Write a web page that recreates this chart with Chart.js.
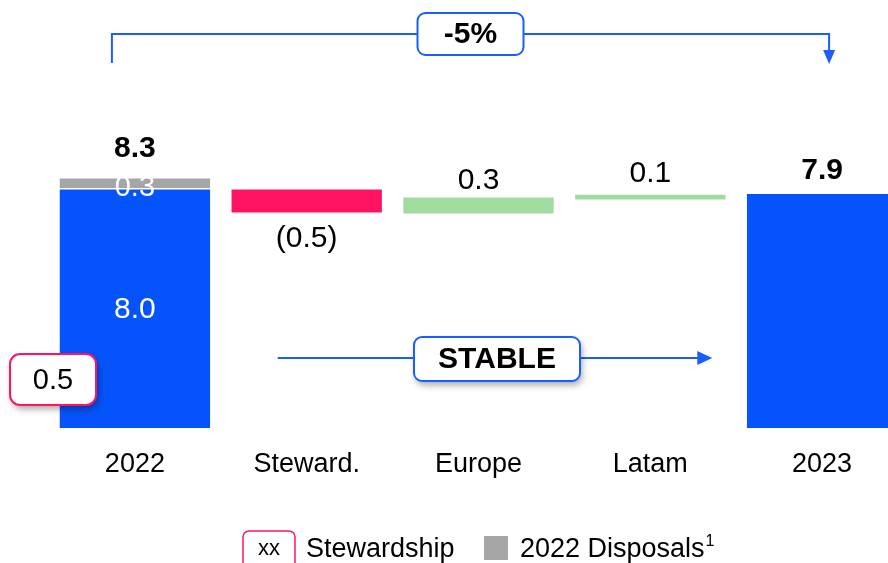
<!DOCTYPE html>
<html>
<head>
<meta charset="utf-8">
<script src="https://cdn.jsdelivr.net/npm/chart.js@4"></script>
<style>
  html, body { margin: 0; padding: 0; background: #fff; overflow: hidden; }
  #wrap { width: 888px; height: 563px; overflow: hidden; }
</style>
</head>
<body>
<div id="wrap"><canvas id="bridge" width="908" height="563"></canvas></div>
<script>
"use strict";

/* data */
var categories = ["2022", "Steward.", "Europe", "Latam", "2023"];
var baseValues = [[0, 8.0], null, null, null, [0, 7.85]];
var disposalValues = [[8.05, 8.37], null, null, null, null];
var stewardValues = [null, [7.23, 8.0], null, null, null];
var regionValues = [null, null, [7.2, 7.73], [7.67, 7.83], null];
var totalLabels = ["8.3", "", "", "", "7.9"];
var stepLabels = ["", "(0.5)", "0.3", "0.1", ""];
var baseLabel = "8.0";
var disposalLabel = "0.3";
var stewardshipCallout = "0.5";
var changeLabel = "-5%";
var trendLabel = "STABLE";
var legendLabels = ["Stewardship", "2022 Disposals"];

var BLUE = "#0553fa";
var LINE_BLUE = "#1a5eff";
var PINK = "#ff1464";
var GREEN = "#a0dba0";
var GREY = "#a6a6a6";
var FONT = "'Liberation Sans', Arial, sans-serif";

function roundRect(ctx, x, y, w, h, r) {
    ctx.beginPath();
    ctx.moveTo(x + r, y);
    ctx.arcTo(x + w, y, x + w, y + h, r);
    ctx.arcTo(x + w, y + h, x, y + h, r);
    ctx.arcTo(x, y + h, x, y, r);
    ctx.arcTo(x, y, x + w, y, r);
    ctx.closePath();
}

function textBox(ctx, x, y, w, h, r, stroke, shadow) {
    ctx.save();
    if (shadow) {
        ctx.shadowColor = "rgba(0,0,0,0.35)";
        ctx.shadowBlur = 7;
        ctx.shadowOffsetX = 2;
        ctx.shadowOffsetY = 4;
    }
    roundRect(ctx, x, y, w, h, r);
    ctx.fillStyle = "#fff";
    ctx.fill();
    ctx.restore();
    ctx.save();
    roundRect(ctx, x, y, w, h, r);
    ctx.lineWidth = 2;
    ctx.strokeStyle = stroke;
    ctx.stroke();
    ctx.restore();
}

function arrowHead(ctx, x, y, dir, len, half) {
    ctx.beginPath();
    if (dir === "down") {
        ctx.moveTo(x, y);
        ctx.lineTo(x - half, y - len);
        ctx.lineTo(x + half, y - len);
    } else {
        ctx.moveTo(x, y);
        ctx.lineTo(x - len, y - half);
        ctx.lineTo(x - len, y + half);
    }
    ctx.closePath();
    ctx.fill();
}

var labelPlugin = {
    id: "bridgeLabels",
    afterDatasetsDraw: function (chart) {
        var ctx = chart.ctx;
        var xs = chart.scales.x;
        var base = chart.getDatasetMeta(0).data;
        var disp = chart.getDatasetMeta(1).data;
        var stew = chart.getDatasetMeta(2).data;
        var reg = chart.getDatasetMeta(3).data;

        ctx.save();
        ctx.textAlign = "center";
        ctx.textBaseline = "middle";

        // totals
        ctx.fillStyle = "#000";
        ctx.font = "bold 30px " + FONT;
        var top0 = Math.min(disp[0].y, disp[0].base);
        ctx.fillText(totalLabels[0], disp[0].x, top0 - 30);
        var top4 = Math.min(base[4].y, base[4].base);
        ctx.fillText(totalLabels[4], base[4].x, top4 - 23);

        // inner labels
        ctx.fillStyle = "#fff";
        ctx.font = "30px " + FONT;
        ctx.fillText(baseLabel, base[0].x, (base[0].y + base[0].base) / 2 + 1);
        ctx.font = "29px " + FONT;
        ctx.fillText(disposalLabel, disp[0].x, (disp[0].y + disp[0].base) / 2 + 5);

        // step labels
        ctx.fillStyle = "#000";
        ctx.font = "30px " + FONT;
        var s = stew[1];
        ctx.fillText(stepLabels[1], s.x, Math.max(s.y, s.base) + 26);
        var e = reg[2];
        ctx.fillText(stepLabels[2], e.x, Math.min(e.y, e.base) - 17);
        var l = reg[3];
        ctx.fillText(stepLabels[3], l.x, Math.min(l.y, l.base) - 21);

        // -5% bracket
        var bx1 = xs.getPixelForValue(0) - 23;
        var bx2 = xs.getPixelForValue(4) + 7;
        ctx.strokeStyle = LINE_BLUE;
        ctx.fillStyle = LINE_BLUE;
        ctx.lineWidth = 2;
        ctx.beginPath();
        ctx.moveTo(bx1, 63);
        ctx.lineTo(bx1, 34);
        ctx.lineTo(bx2, 34);
        ctx.lineTo(bx2, 52);
        ctx.stroke();
        arrowHead(ctx, bx2, 64, "down", 14, 6);
        var mid = (bx1 + bx2) / 2;
        textBox(ctx, mid - 53, 13, 106, 42, 8, LINE_BLUE, false);
        ctx.fillStyle = "#000";
        ctx.font = "bold 30px " + FONT;
        ctx.fillText(changeLabel, mid, 35);

        // STABLE arrow
        var sx1 = xs.getPixelForValue(1) - 29;
        var sx2 = xs.getPixelForValue(3) + 62;
        ctx.strokeStyle = LINE_BLUE;
        ctx.fillStyle = LINE_BLUE;
        ctx.beginPath();
        ctx.moveTo(sx1, 358);
        ctx.lineTo(sx2 - 12, 358);
        ctx.stroke();
        arrowHead(ctx, sx2, 358, "right", 15, 7);
        textBox(ctx, 414, 337, 166, 44, 8, LINE_BLUE, true);
        ctx.fillStyle = "#000";
        ctx.font = "bold 30px " + FONT;
        ctx.fillText(trendLabel, 497, 360);

        // stewardship callout
        textBox(ctx, 10, 354, 86, 51, 10, PINK, true);
        ctx.fillStyle = "#000";
        ctx.font = "29px " + FONT;
        ctx.fillText(stewardshipCallout, 53, 381);

        // legend
        ctx.save();
        roundRect(ctx, 243, 531, 52, 40, 6);
        ctx.lineWidth = 1.5;
        ctx.strokeStyle = PINK;
        ctx.stroke();
        ctx.restore();
        ctx.fillStyle = "#000";
        ctx.font = "22px " + FONT;
        ctx.fillText("xx", 269, 549);
        ctx.textAlign = "left";
        ctx.textBaseline = "alphabetic";
        ctx.font = "27px " + FONT;
        ctx.fillText(legendLabels[0], 306, 557);
        ctx.fillStyle = GREY;
        ctx.fillRect(484, 536, 24, 24);
        ctx.fillStyle = "#000";
        ctx.fillText(legendLabels[1], 520, 557);
        var w = ctx.measureText(legendLabels[1]).width;
        ctx.font = "16px " + FONT;
        ctx.fillText("1", 520 + w + 1, 546);
        ctx.restore();
    }
};

var myCanvas = document.getElementById("bridge");
var myChart = new Chart(myCanvas, {
    type: "bar",
    data: {
        labels: categories,
        datasets: [
            { label: "Total", data: baseValues, backgroundColor: BLUE },
            { label: "Disposals", data: disposalValues, backgroundColor: GREY },
            { label: "Stewardship", data: stewardValues, backgroundColor: PINK },
            { label: "Regions", data: regionValues, backgroundColor: GREEN },
        ],
    },
    options: {
        responsive: false,
        animation: false,
        devicePixelRatio: 1,
        layout: { padding: { left: 49, right: 0, top: 0, bottom: 62.6 } },
        datasets: {
            bar: {
                grouped: false,
                barPercentage: 0.875,
                categoryPercentage: 1,
                borderWidth: 0,
            },
        },
        scales: {
            x: {
                grid: { display: false, drawTicks: false },
                border: { display: false },
                ticks: {
                    color: "#000",
                    padding: 20,
                    font: { size: 27, family: FONT },
                },
            },
            y: { display: false, min: 0, max: 14.36 },
        },
        plugins: {
            legend: { display: false },
            tooltip: { enabled: false },
        },
    },
    plugins: [labelPlugin],
});
</script>
</body>
</html>
